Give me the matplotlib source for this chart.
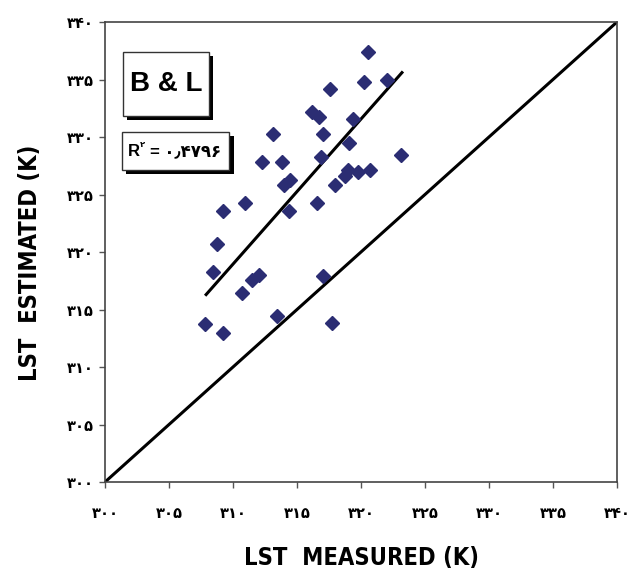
import matplotlib.pyplot as plt
from matplotlib.patches import Rectangle

# measured / estimated LST (K)
lst_measured = [320.55, 320.2, 322.0, 317.6, 316.2, 316.7, 319.4, 313.1, 317.0, 319.1,
                323.1, 312.3, 313.8, 316.9, 319.0, 319.8, 320.7, 318.75, 314.45, 314.0,
                318.0, 310.9, 309.2, 314.4, 316.6, 308.75, 308.4, 312.0, 311.5, 317.0,
                310.7, 313.4, 307.8, 309.2, 317.7]
lst_estimated = [337.4, 334.8, 335.0, 334.2, 332.2, 331.7, 331.6, 330.3, 330.3, 329.5,
                 328.4, 327.8, 327.8, 328.3, 327.1, 327.0, 327.1, 326.6, 326.3, 325.8,
                 325.8, 324.3, 323.6, 323.6, 324.3, 320.7, 318.3, 318.0, 317.6, 317.9,
                 316.4, 314.4, 313.7, 313.0, 313.8]

# trend line ends and 1:1 line
fit_x = [307.9, 323.2]
fit_y = [316.3, 335.6]
one_to_one = [300, 340]

ticks = [300, 305, 310, 315, 320, 325, 330, 335, 340]
tick_labels = ['۳۰۰', '۳۰۵', '۳۱۰', '۳۱۵', '۳۲۰', '۳۲۵', '۳۳۰', '۳۳۵', '۳۴۰']

model_name = 'B & L'
r2_value = '= ۰٫۴۷۹۶'

plt.rcParams['font.family'] = ['Liberation Sans', 'DejaVu Sans']

fig = plt.figure(figsize=(6.27, 5.73), dpi=100)
ax = fig.add_axes([0.1675, 0.1588, 0.8165, 0.8028])

ax.plot(one_to_one, one_to_one, color='black', lw=2.2, zorder=2)
ax.plot(fit_x, fit_y, color='black', lw=2.2, zorder=2)
ax.plot(lst_measured, lst_estimated, 'D', color='#2b2d73', markersize=7.5, zorder=3)

ax.set_xlim(300, 340)
ax.set_ylim(300, 340)
ax.set_xticks(ticks)
ax.set_yticks(ticks)
ax.set_xticklabels(tick_labels, fontsize=10.5, fontweight='bold', family=['DejaVu Sans'])
ax.set_yticklabels(tick_labels, fontsize=10.5, fontweight='bold', family=['DejaVu Sans'])
ax.tick_params(direction='out', length=4, width=1, color='#555555', pad=4)
ax.tick_params(axis='x', pad=13)
for s in ax.spines.values():
	s.set_color('#444444')
	s.set_linewidth(1.2)

# boxes with drop shadow
def shadow_box(x0, y0, x1, y1):
	ax.add_patch(Rectangle((x0 + 0.35, y0 - 0.35), x1 - x0, y1 - y0, facecolor='black',
	                       edgecolor='none', zorder=4))
	ax.add_patch(Rectangle((x0, y0), x1 - x0, y1 - y0, facecolor='white',
	                       edgecolor='#333333', lw=1, zorder=5))

shadow_box(301.4, 331.8, 308.1, 337.4)
ax.text(304.75, 334.6, model_name, fontsize=20, fontweight='bold', ha='center', va='center', zorder=6)

shadow_box(301.3, 327.1, 309.7, 330.4)
ax.text(301.75, 328.75, 'R', fontsize=12, fontweight='bold', ha='left', va='center', zorder=6)
ax.text(302.7, 329.35, '۲', fontsize=6, fontweight='bold', ha='left', va='center', zorder=6,
        family=['DejaVu Sans'])
ax.text(303.5, 328.75, r2_value, fontsize=12, fontweight='bold', ha='left', va='center', zorder=6,
        family=['Liberation Sans', 'DejaVu Sans'])

fig.text(0.577, 0.027, 'LST  MEASURED (K)', fontsize=17, fontweight='bold', ha='center', va='center',
         family=['DejaVu Sans'], stretch='condensed')
fig.text(0.048, 0.541, 'LST  ESTIMATED (K)', fontsize=17, fontweight='bold', ha='center', va='center',
         rotation=90, family=['DejaVu Sans'], stretch='condensed')

plt.savefig('out.png', dpi=100)
